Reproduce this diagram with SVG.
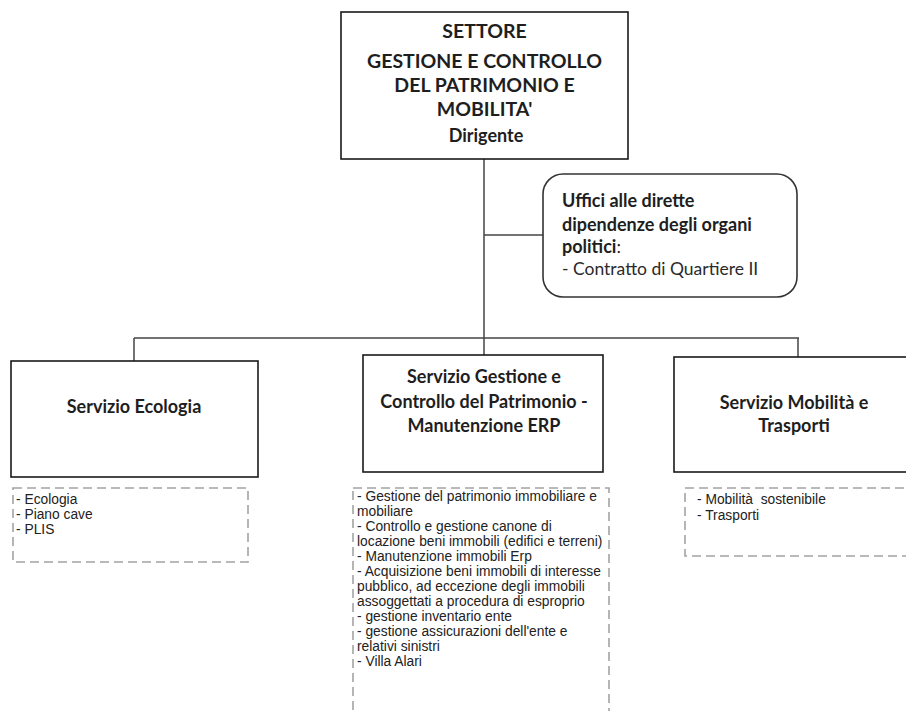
<svg xmlns="http://www.w3.org/2000/svg" width="906" height="711" viewBox="0 0 906 711">
<style>
.box{fill:#fff;stroke:#1a1a1a;stroke-width:1.6}
.rbox{fill:#fff;stroke:#333;stroke-width:1.6}
.dash{fill:#fff;stroke:#a3a3a3;stroke-width:1.6;stroke-dasharray:9 5}
.conn{fill:none;stroke:#444;stroke-width:1.5}
.t{font-family:Lato,"Liberation Sans",sans-serif;font-weight:bold;fill:#1e1e1e}
.title{font-size:19.5px;text-anchor:middle}
.svc{font-size:18px;text-anchor:middle}
.uff{font-size:18px}
.uffn{font-family:Lato,"Liberation Sans",sans-serif;font-size:17.5px;fill:#2a2a2a}
.lst{font-family:"Liberation Sans",Arial,sans-serif;font-size:13.8px;fill:#222}
</style>
<rect width="906" height="711" fill="#fff"/>
<g id="connectors">
<line class="conn" x1="484" y1="159" x2="484" y2="355"/>
<line class="conn" x1="484" y1="235" x2="543" y2="235"/>
<line class="conn" x1="134" y1="338" x2="799" y2="338"/>
<line class="conn" x1="134" y1="338" x2="134" y2="361"/>
<line class="conn" x1="798" y1="338" x2="798" y2="357"/>
</g>
<g id="node-settore">
<rect class="box" x="341" y="12" width="287" height="147"/>
<text class="t title" x="484.5" y="38">SETTORE</text>
<text class="t title" x="484.5" y="68">GESTIONE E CONTROLLO</text>
<text class="t title" x="484.5" y="92">DEL PATRIMONIO E</text>
<text class="t title" x="484.5" y="116">MOBILITA'</text>
<text class="t" x="486" y="142" font-size="18" text-anchor="middle">Dirigente</text>
</g>
<g id="node-uffici">
<rect class="rbox" x="543" y="174" width="254" height="123" rx="20" ry="20"/>
<text class="t uff" x="562" y="207">Uffici alle dirette</text>
<text class="t uff" x="562" y="231">dipendenze degli organi</text>
<text class="t uff" x="562" y="253">politici<tspan font-weight="normal">:</tspan></text>
<text class="uffn" x="562" y="275">- Contratto di Quartiere II</text>
</g>
<g id="node-ecologia">
<rect class="box" x="11" y="361" width="247" height="116"/>
<text class="t svc" x="134" y="413">Servizio Ecologia</text>
</g>
<g id="node-gestione">
<rect class="box" x="363" y="355" width="240" height="117"/>
<text class="t svc" x="484" y="383">Servizio Gestione e</text>
<text class="t svc" x="484" y="408">Controllo del Patrimonio -</text>
<text class="t svc" x="484" y="432">Manutenzione ERP</text>
</g>
<g id="node-mobilita">
<rect class="box" x="674" y="357" width="250" height="115"/>
<text class="t svc" x="794" y="409">Servizio Mobilità e</text>
<text class="t svc" x="794" y="432">Trasporti</text>
</g>
<g id="list-ecologia">
<rect class="dash" x="13" y="488" width="235" height="74"/>
<text class="lst" x="16" y="504">- Ecologia</text>
<text class="lst" x="16" y="519">- Piano cave</text>
<text class="lst" x="16" y="534">- PLIS</text>
</g>
<g id="list-gestione">
<rect class="dash" x="353" y="488" width="256" height="240"/>
<text class="lst" x="357" y="501">- Gestione del patrimonio immobiliare e</text>
<text class="lst" x="357" y="516">mobiliare</text>
<text class="lst" x="357" y="531">- Controllo e gestione canone di</text>
<text class="lst" x="357" y="546">locazione beni immobili (edifici e terreni)</text>
<text class="lst" x="357" y="561">- Manutenzione immobili Erp</text>
<text class="lst" x="357" y="576">- Acquisizione beni immobili di interesse</text>
<text class="lst" x="357" y="591">pubblico, ad eccezione degli immobili</text>
<text class="lst" x="357" y="606">assoggettati a procedura di esproprio</text>
<text class="lst" x="357" y="621">- gestione inventario ente</text>
<text class="lst" x="357" y="636">- gestione assicurazioni dell'ente e</text>
<text class="lst" x="357" y="651">relativi sinistri</text>
<text class="lst" x="357" y="666">- Villa Alari</text>
</g>
<g id="list-mobilita">
<rect class="dash" x="685" y="488" width="240" height="68"/>
<text class="lst" x="697" y="504" xml:space="preserve">- Mobilità  sostenibile</text>
<text class="lst" x="697" y="520">- Trasporti</text>
</g>
</svg>
